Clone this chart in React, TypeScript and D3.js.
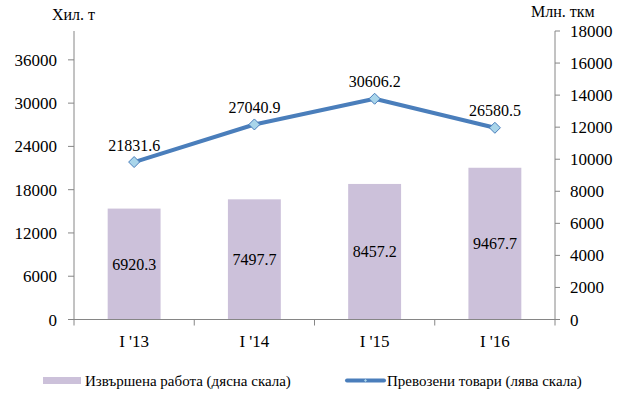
import React from "react";
import * as d3 from "d3";

const categories = ["I '13", "I '14", "I '15", "I '16"];
const workValues = [6920.3, 7497.7, 8457.2, 9467.7]; // right scale, bars
const goodsValues = [21831.6, 27040.9, 30606.2, 26580.5]; // left scale, line
const leftTicks = [0, 6000, 12000, 18000, 24000, 30000, 36000];
const rightTicks = [0, 2000, 4000, 6000, 8000, 10000, 12000, 14000, 16000, 18000];
const leftTitle = "Хил. т";
const rightTitle = "Млн. ткм";
const legendBar = "Извършена работа (дясна скала)";
const legendLine = "Превозени товари (лява скала)";

const W = 630, H = 398;
const plot = { left: 74, right: 555, top: 31, bottom: 319.5 };
const FONT = "'Liberation Serif'";
const AXIS = "#868686";
const BAR = "#ccc1da";
const LINE = "#4a7ebb";
const MARKER = "#a9d5ea";

export default function App() {
  const x = d3.scaleBand<string>().domain(categories).range([plot.left, plot.right]).paddingInner(0).paddingOuter(0);
  const yL = d3.scaleLinear().domain([0, 40000]).range([plot.bottom, plot.top]);
  const yR = d3.scaleLinear().domain([0, 18000]).range([plot.bottom, plot.top]);
  const barW = x.bandwidth() * 0.44;
  const cx = (c: string) => (x(c) as number) + x.bandwidth() / 2;
  const line = d3.line<number>().x((_, i) => cx(categories[i])).y((d) => yL(d));
  const fmt = (v: number) => v.toFixed(1);
  const diamond = (px: number, py: number, r: number) =>
    `M${px},${py - r}L${px + r},${py}L${px},${py + r}L${px - r},${py}Z`;
  const ts = { fontFamily: FONT };

  return (
    <svg width={W} height={H} style={{ position: "absolute", left: 0, top: 0, background: "#fff" }}>
      {workValues.map((v, i) => (
        <rect key={"b" + i} x={cx(categories[i]) - barW / 2} y={yR(v)} width={barW} height={plot.bottom - yR(v)} fill={BAR} />
      ))}
      {workValues.map((v, i) => (
        <text key={"bl" + i} style={ts} x={cx(categories[i])} y={(yR(v) + plot.bottom) / 2 + 5.5} textAnchor="middle" fontSize={16}>
          {fmt(v)}
        </text>
      ))}
      <line x1={plot.left} x2={plot.left} y1={plot.top} y2={plot.bottom} stroke={AXIS} />
      {leftTicks.map((t) => (
        <g key={"lt" + t}>
          <line x1={plot.left - 6} x2={plot.left} y1={yL(t)} y2={yL(t)} stroke={AXIS} />
          <text style={ts} x={plot.left - 17} y={yL(t) + 6} textAnchor="end" fontSize={17}>{t}</text>
        </g>
      ))}
      <line x1={plot.right} x2={plot.right} y1={plot.top} y2={plot.bottom} stroke={AXIS} />
      {rightTicks.map((t) => (
        <g key={"rt" + t}>
          <line x1={plot.right} x2={plot.right + 5} y1={yR(t)} y2={yR(t)} stroke={AXIS} />
          <text style={ts} x={plot.right + 15} y={yR(t) + 6} textAnchor="start" fontSize={17}>{t}</text>
        </g>
      ))}
      <line x1={plot.left} x2={plot.right} y1={plot.bottom} y2={plot.bottom} stroke={AXIS} />
      {categories.concat([""]).map((c, i) => {
        const px = plot.left + i * x.bandwidth();
        return <line key={"ct" + i} x1={px} x2={px} y1={plot.bottom} y2={plot.bottom + 6} stroke={AXIS} />;
      })}
      {categories.map((c) => (
        <text key={"cl" + c} style={ts} x={cx(c)} y={347} textAnchor="middle" fontSize={17}>{c}</text>
      ))}
      <path d={line(goodsValues) as string} fill="none" stroke={LINE} strokeWidth={4} strokeLinejoin="round" />
      {goodsValues.map((v, i) => (
        <path key={"m" + i} d={diamond(cx(categories[i]), yL(v), 5.5)} fill={MARKER} stroke={LINE} strokeWidth={1} />
      ))}
      {goodsValues.map((v, i) => (
        <text key={"ll" + i} style={ts} x={cx(categories[i])} y={yL(v) - 11.5} textAnchor="middle" fontSize={16}>
          {fmt(v)}
        </text>
      ))}
      <text style={ts} x={52} y={20} fontSize={16}>{leftTitle}</text>
      <text style={ts} x={531} y={17} fontSize={16}>{rightTitle}</text>
      <rect x={43} y={377} width={38} height={7} fill={BAR} />
      <text style={ts} x={85} y={386} fontSize={15}>{legendBar}</text>
      <line x1={347} x2={384} y1={380.5} y2={380.5} stroke={LINE} strokeWidth={4} strokeLinecap="round" />
      <path d={diamond(365.5, 380.5, 1.5)} fill={MARKER} />
      <text style={ts} x={387} y={386} fontSize={15}>{legendLine}</text>
    </svg>
  );
}
